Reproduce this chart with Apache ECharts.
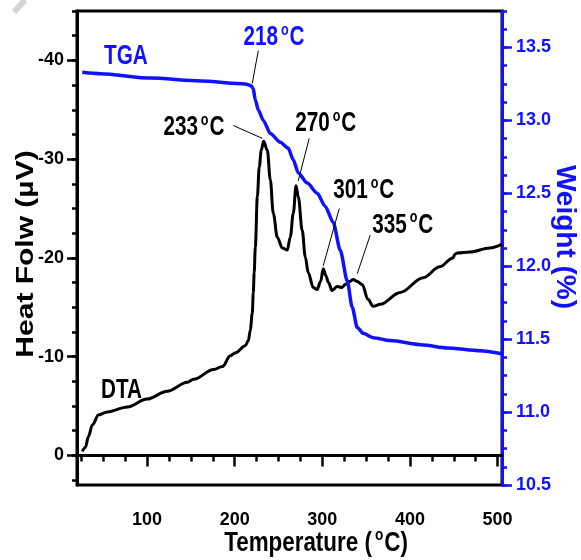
<!DOCTYPE html>
<html>
<head>
<meta charset="utf-8">
<script src="https://cdn.jsdelivr.net/npm/echarts@6/dist/echarts.min.js"></script>
<style>
  html, body { margin: 0; padding: 0; background: #fff; }
  #chart { width: 581px; height: 560px; }
</style>
</head>
<body>
<div id="chart"></div>
<script>
// DTA trace: temperature (°C) and heat flow (µV)
const dtaTemps = [26, 29.6, 33, 37.6, 44.5, 54.7, 77.5, 100, 123, 146,
  153, 176, 186, 195, 201, 212, 215.5, 217.8, 220, 221.2,
  222.2, 223.5, 225.8, 228, 230.3, 233, 237.2, 240.6, 244, 248.6,
  254.3, 260, 263.4, 266.8, 270, 272.5, 277, 280.5, 283.9, 289.6,
  294, 298, 301, 304, 307, 311, 317, 322.5, 326, 331,
  335, 340, 345.5, 352, 358, 366, 389, 415, 434, 449,
  451.5, 454, 468.6, 491, 505];
const dtaValues = [-0.4, -0.8, -1.9, -3.1, -4.1, -4.4, -4.9, -5.7, -6.5, -7.4,
  -7.7, -8.7, -9.0, -10.1, -10.4, -11.1, -11.6, -12.7, -14.4, -16.5,
  -18.5, -21.1, -26.2, -29.2, -30.9, -31.8, -30.9, -27.9, -24.5, -22.1,
  -21.0, -20.8, -22.1, -24.5, -27.3, -26.2, -22.8, -20.1, -18.5, -17.0,
  -16.8, -17.6, -18.9, -18.2, -17.5, -16.7, -17.1, -17.0, -17.3, -17.6,
  -17.8, -17.6, -17.3, -15.8, -15.1, -15.3, -16.5, -18.0, -19.1, -20.0,
  -20.4, -20.5, -20.6, -21.0, -21.4];

// TGA trace: temperature (°C) and weight (%)
const tgaTemps = [26, 47, 104, 161, 212, 218, 221, 223.5, 227, 232.6,
  240.6, 252, 261, 266.8, 272.5, 282.8, 294.2, 303.3, 312.4, 320.4,
  328.4, 334, 339.8, 346.6, 358, 377.4, 415, 442, 480, 505];
const tgaWeights = [13.33, 13.32, 13.29, 13.27, 13.25, 13.24, 13.22, 13.14, 13.07, 13.0,
  12.91, 12.85, 12.81, 12.73, 12.64, 12.57, 12.5, 12.41, 12.3, 12.11,
  11.9, 11.72, 11.58, 11.54, 11.51, 11.49, 11.46, 11.44, 11.42, 11.40];

// Marked events (°C)
const peakTemps = [233, 270, 301, 335];
const onsetTemp = 218;

// Tick labels
const tempTicks = [100, 200, 300, 400, 500];
const heatTicks = [-40, -30, -20, -10, 0];
const weightTicks = [10.5, 11.0, 11.5, 12.0, 12.5, 13.0, 13.5];

const BLUE = '#1111ff';
const FONT = "'Liberation Sans', Arial, sans-serif";

function steps(from, to, step) {
  const out = [];
  for (let v = from; v <= to + 1e-9; v += step) out.push(+v.toFixed(4));
  return out;
}
const tempMinor = steps(25, 500, 25);
const heatMinor = steps(-45, 2.5, 2.5);
const weightMinor = steps(10.5, 13.75, 0.125);

const zip = (a, b) => a.map((v, i) => [v, b[i]]);

const tickLabel = { fontFamily: FONT, fontWeight: 'bold', fontSize: 18, color: '#000' };

const arrowStyle = {
  silent: true,
  symbol: ['none', 'arrow'],
  symbolSize: [0, 8],
  label: { show: false },
  lineStyle: { type: 'solid', color: '#000', width: 1 },
  emphasis: { disabled: true }
};

const option = {
  animation: false,
  backgroundColor: '#fff',
  grid: {
    left: 77, right: 79, top: 11, bottom: 75,
    show: true, borderColor: '#000', borderWidth: 3,
    outerBoundsMode: 'none'
  },
  xAxis: [
    {
      type: 'value', min: 20, max: 505, position: 'bottom',
      axisLine: { show: true, lineStyle: { color: '#000', width: 3 } },
      axisTick: { show: true, customValues: tempTicks, length: 11, lineStyle: { width: 2.5 } },
      axisLabel: { customValues: tempTicks, margin: 26, ...tickLabel },
      splitLine: { show: false }
    },
    {
      type: 'value', min: 20, max: 505, position: 'bottom',
      axisLine: { show: false },
      axisTick: { show: true, customValues: tempMinor, length: 6, lineStyle: { width: 2.5, color: '#000' } },
      axisLabel: { show: false },
      splitLine: { show: false }
    }
  ],
  yAxis: [
    {
      type: 'value', min: -45, max: 3, inverse: true, position: 'left',
      axisLine: { show: true, lineStyle: { color: '#000', width: 3 } },
      axisTick: { show: true, customValues: heatTicks, length: 10, lineStyle: { width: 2.5 } },
      axisLabel: { customValues: heatTicks, margin: 13, ...tickLabel },
      splitLine: { show: false }
    },
    {
      type: 'value', min: 10.5, max: 13.75, position: 'right',
      axisLine: { show: true, lineStyle: { color: BLUE, width: 3 } },
      axisTick: { show: true, customValues: weightTicks, length: 10, lineStyle: { width: 2.5, color: BLUE } },
      axisLabel: { customValues: weightTicks, margin: 14, ...tickLabel, color: BLUE,
                   formatter: v => v.toFixed(1) },
      splitLine: { show: false }
    },
    {
      type: 'value', min: -45, max: 3, inverse: true, position: 'left',
      axisLine: { show: false },
      axisTick: { show: true, customValues: heatMinor, length: 5, lineStyle: { width: 2.5, color: '#000' } },
      axisLabel: { show: false },
      splitLine: { show: false }
    },
    {
      type: 'value', min: 10.5, max: 13.75, position: 'right',
      axisLine: { show: false },
      axisTick: { show: true, customValues: weightMinor, length: 5, lineStyle: { width: 2.5, color: BLUE } },
      axisLabel: { show: false },
      splitLine: { show: false }
    }
  ],
  series: [
    {
      name: 'DTA', type: 'line', xAxisIndex: 0, yAxisIndex: 0,
      data: zip(dtaTemps, dtaValues),
      symbol: 'none', smooth: 0.35, smoothMonotone: 'x',
      lineStyle: { color: '#000', width: 3 },
      z: 3,
      markLine: Object.assign({
        data: [
          [{ coord: [peakTemps[0] - 1.5, -32.1] }, { coord: [198.4, -33.4] }],
          [{ coord: [peakTemps[1] + 2.5, -27.8] }, { coord: [285, -32.1] }],
          [{ coord: [peakTemps[2], -19.2] }, { coord: [319.3, -25.0] }],
          [{ coord: [peakTemps[3] + 4.8, -18.4] }, { coord: [354.6, -22.3] }]
        ]
      }, arrowStyle)
    },
    {
      name: 'TGA', type: 'line', xAxisIndex: 0, yAxisIndex: 1,
      data: zip(tgaTemps, tgaWeights),
      symbol: 'none', smooth: 0.25, smoothMonotone: 'x',
      lineStyle: { color: BLUE, width: 3.5 },
      z: 4,
      markLine: Object.assign({
        data: [
          [{ coord: [onsetTemp + 2, 13.253] }, { coord: [226.9, 13.479] }]
        ]
      }, arrowStyle)
    }
  ]
};

const chart = echarts.init(document.getElementById('chart'), null, { renderer: 'canvas' });
chart.setOption(option);

// Text measuring for laying out the raised "o" of the degree sign
const measureCtx = document.createElement('canvas').getContext('2d');
function textWidth(str, size) {
  measureCtx.font = 'bold ' + size + "px 'Liberation Sans', Arial, sans-serif";
  return measureCtx.measureText(str).width;
}

// A text group "<head> oC<tail>" with a small raised o; the group's origin is
// the left edge (or centre) at the vertical middle of the capitals.
function degreeText(head, tail, color, size, opts) {
  const supSize = Math.round(size * 0.6);
  const base = { fontFamily: FONT, fontWeight: 'bold', fill: color, verticalAlign: 'middle', align: 'left' };
  const w1 = textWidth(head, size);
  const wo = textWidth('o', supSize);
  const gap1 = size * 0.14, gap2 = size * 0.04;
  const xo = w1 + gap1;
  const xc = xo + wo + gap2;
  const total = xc + textWidth('C' + tail, size);
  const shift = opts.center ? -total / 2 : 0;
  return {
    type: 'group', x: opts.x, y: opts.y, scaleX: opts.scaleX, silent: true, z: 10,
    children: [
      { type: 'text', x: shift, y: 0, style: Object.assign({ text: head, fontSize: size }, base) },
      { type: 'text', x: shift + xo, y: -size * 0.27, style: Object.assign({ text: 'o', fontSize: supSize }, base) },
      { type: 'text', x: shift + xc, y: 0, style: Object.assign({ text: 'C' + tail, fontSize: size }, base) }
    ]
  };
}

// Annotation anchors: left edge and vertical middle of the text, in data units
const notes = [
  { series: 1, at: [210, 13.568], head: String(onsetTemp), color: BLUE },
  { series: 0, at: [118.6, -33.2], head: String(peakTemps[0]), color: '#000' },
  { series: 0, at: [269, -33.6], head: String(peakTemps[1]), color: '#000' },
  { series: 0, at: [312.4, -26.8], head: String(peakTemps[2]), color: '#000' },
  { series: 0, at: [357, -23.3], head: String(peakTemps[3]), color: '#000' }
];
const names = [
  { series: 1, at: [50.8, 13.438], text: 'TGA', color: BLUE },
  { series: 0, at: [47.4, -6.6], text: 'DTA', color: '#000' }
];

const graphics = [];
notes.forEach(n => {
  const p = chart.convertToPixel({ seriesIndex: n.series }, n.at);
  graphics.push(degreeText(n.head, '', n.color, 28, { x: p[0], y: p[1], scaleX: 0.74 }));
});
names.forEach(n => {
  const p = chart.convertToPixel({ seriesIndex: n.series }, n.at);
  graphics.push({
    type: 'text', x: p[0], y: p[1], scaleX: 0.74, silent: true, z: 10,
    style: { text: n.text, fontFamily: FONT, fontWeight: 'bold', fontSize: 28,
             align: 'left', verticalAlign: 'middle', fill: n.color }
  });
});

// Axis titles
graphics.push(
  degreeText('Temperature (', ')', '#000', 28, { x: 316, y: 543, scaleX: 0.8, center: true }),
  {
    type: 'text', x: 26, y: 254, rotation: Math.PI / 2, scaleX: 1.25, silent: true,
    style: { text: 'Heat Folw (\u00b5V)', fontFamily: FONT, fontWeight: 'bold', fontSize: 24,
             align: 'center', verticalAlign: 'middle', fill: '#000' }
  },
  {
    type: 'text', x: 565, y: 237, rotation: -Math.PI / 2, silent: true,
    style: { text: 'Weight (%)', fontFamily: FONT, fontWeight: 'bold', fontSize: 28,
             align: 'center', verticalAlign: 'middle', fill: BLUE }
  },
  // faint stroke in the top-left corner
  {
    type: 'line', silent: true, z: 0,
    shape: { x1: 14, y1: 12, x2: 25, y2: 0 },
    style: { stroke: '#d4d4d4', lineWidth: 6 }
  }
);

chart.setOption({ graphic: graphics });
</script>
</body>
</html>
